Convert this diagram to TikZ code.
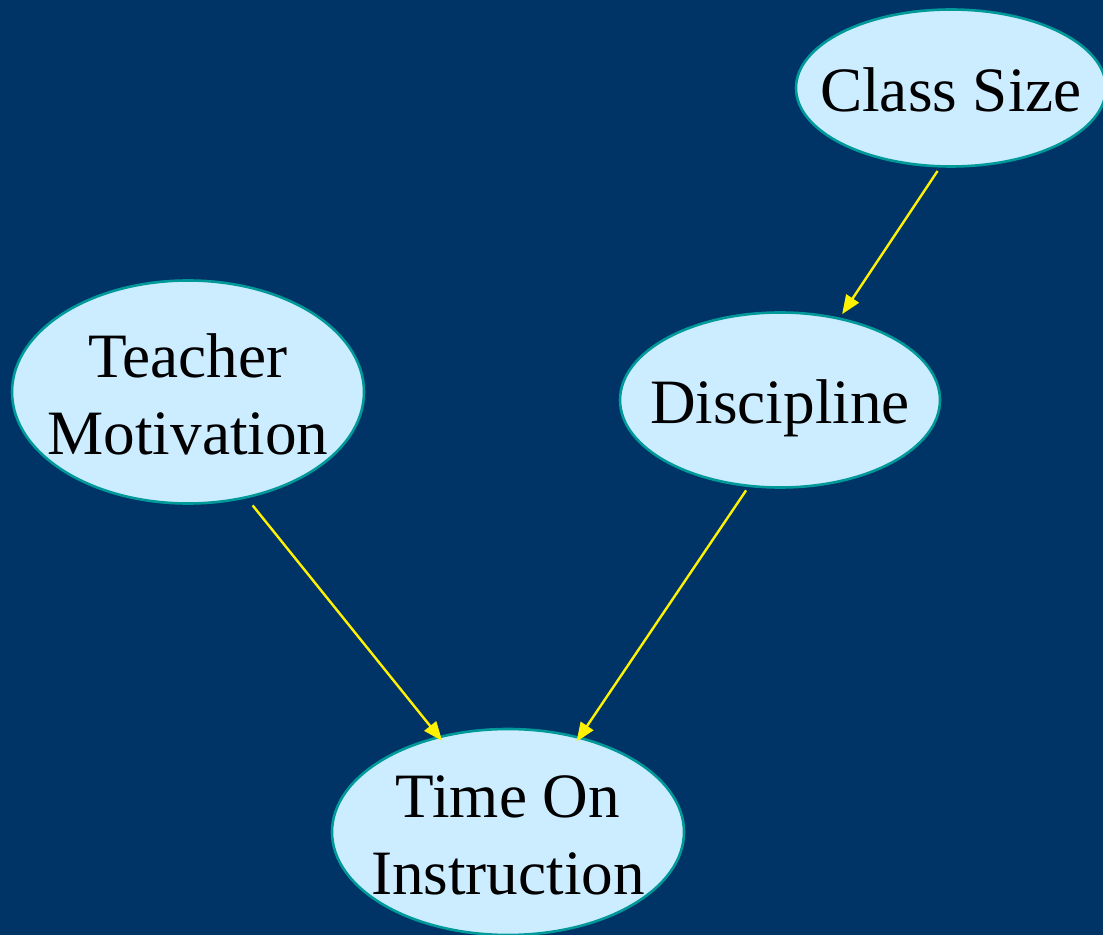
\documentclass[tikz,border=0pt]{standalone}
\usepackage{fontspec}
\setmainfont{Liberation Serif}
\usetikzlibrary{calc}
\usetikzlibrary{arrows.meta}
\usetikzlibrary{shapes.geometric}

\definecolor{bgblue}{HTML}{003366}
\definecolor{bubble}{HTML}{CCECFF}
\definecolor{rim}{HTML}{009999}

\begin{document}
\begin{tikzpicture} [x=.5pt, y=-.5pt,
  factor/.style={ellipse, fill=bubble, draw=rim, line width=1.3pt, inner xsep=-12pt, inner ysep=0,
    align=center, text=black, font=\fontsize{31.6}{38.5}\selectfont,
    text height=24pt, text depth=0pt},
  twoline/.style={text height=62.5pt},
  link/.style={yellow, line width=1.2pt, ->, >={Triangle[length=9.5pt,width=7.5pt]}}]
\fill[bgblue] (0,0) rectangle (1103,935);
\useasboundingbox (0,0) rectangle (1103,935);
\clip (0,0) rectangle (1103,935);
\node[factor, minimum width=155pt, minimum height=78.5pt] (size) at (951,88) {Class Size};
\node[factor, twoline, minimum width=176pt, minimum height=111.5pt] (motiv) at (188,392) {Teacher\\Motivation};
\node[factor, minimum width=160pt, minimum height=87.5pt] (disc) at (780,400) {Discipline};
\node[factor, twoline, minimum width=176pt, minimum height=103pt] (time) at (508,832) {Time On\\Instruction};
\draw[link, shorten <=2pt, shorten >=2pt] (size.262) -- (disc.54);
\draw[link, shorten <=4.5pt, shorten >=-3pt] (motiv.299.5) -- (time.126);
\draw[link, shorten <=2pt, shorten >=-3pt] (disc.250) -- (time.53);
\end{tikzpicture}
\end{document}
